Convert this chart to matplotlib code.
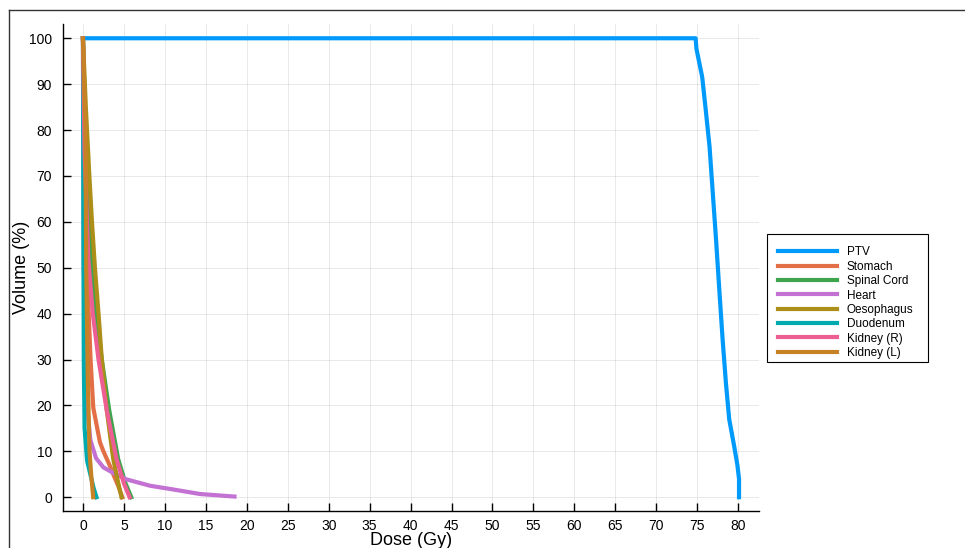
import numpy as np
import matplotlib
matplotlib.use("Agg")
import matplotlib.pyplot as plt
from matplotlib.lines import Line2D
from matplotlib.patches import Rectangle

plt.rcParams['font.family'] = ['Liberation Sans', 'DejaVu Sans']

# dose-volume histogram points (dose Gy, volume %)
ptv_dose = [0, 74.8, 74.9, 75.6, 76.0, 76.5, 76.9, 77.3, 77.7, 78.1, 78.5, 78.9, 79.5, 79.9, 80.1, 80.1]
ptv_vol = [100, 100, 97.7, 91.6, 85, 76.4, 66.2, 56, 45, 34.3, 24.9, 17, 11.2, 7, 4, 0]

stomach_dose = [0, 0.2, 0.45, 0.7, 0.93, 1.26, 2.07, 2.5, 3.3, 3.7, 4.3, 4.8]
stomach_vol = [100, 60, 52, 40, 30, 19.5, 12, 10, 6.8, 5, 2.5, 0]

cord_dose = [0, 0.3, 0.9, 1.6, 2.3, 3.2, 4.3, 5.2, 5.9]
cord_vol = [100, 80, 55, 40, 30, 19, 8.3, 3, 0]

heart_dose = [0, 0.1, 0.5, 0.9, 1.6, 2.5, 3.7, 5.3, 8.2, 11, 14.3, 18.5]
heart_vol = [100, 50, 20, 12.5, 8.5, 6.5, 5.3, 3.9, 2.5, 1.7, 0.7, 0.15]

oeso_dose = [0, 0.35, 0.78, 1.1, 1.46, 1.9, 2.3, 2.9, 3.7, 4.2, 4.7]
oeso_vol = [100, 85, 70, 60, 50, 40, 30, 19, 8.3, 4, 0]

duod_dose = [0, 0.05, 0.1, 0.2, 0.5, 0.9, 1.3, 1.65]
duod_vol = [100, 60, 30, 15, 8, 5, 2, 0]

kidr_dose = [0, 0.2, 0.65, 1.2, 1.9, 2.9, 4.1, 5.0, 5.7]
kidr_vol = [100, 75, 52, 40, 30, 19, 8.3, 3, 0]

kidl_dose = [0, 0.3, 0.4, 0.6, 0.8, 1.0, 1.25]
kidl_vol = [100, 80, 50, 25, 10, 5, 0]

labels = ["PTV", "Stomach", "Spinal Cord", "Heart", "Oesophagus", "Duodenum", "Kidney (R)", "Kidney (L)"]
doses = [ptv_dose, stomach_dose, cord_dose, heart_dose, oeso_dose, duod_dose, kidr_dose, kidl_dose]
vols = [ptv_vol, stomach_vol, cord_vol, heart_vol, oeso_vol, duod_vol, kidr_vol, kidl_vol]
colors = ["#009AFA", "#E36F47", "#3EA44E", "#C371D2", "#AC8E18", "#00AAAE", "#ED5E93", "#C68225"]

fig = plt.figure(figsize=(9.65, 5.48), dpi=100)
ax = fig.add_axes([0.0656, 0.0675, 0.7206, 0.8878])

for d, v, c, lab in zip(doses, vols, colors, labels):
    ax.plot(d, v, color=c, lw=3, label=lab, solid_joinstyle='round')

ax.set_xlim(-2.4, 82.5)
ax.set_ylim(-3, 103)
ax.set_xticks(np.arange(0, 81, 5))
ax.set_yticks(np.arange(0, 101, 10))
ax.grid(True, color='#000000', alpha=0.1, lw=0.6)
ax.set_axisbelow(True)
ax.tick_params(direction='in', length=6, width=1, labelsize=10, colors='black')
ax.tick_params(axis='y', pad=8)
ax.tick_params(axis='x', pad=6)
for s in ['top', 'right']:
    ax.spines[s].set_visible(False)
for s in ['left', 'bottom']:
    ax.spines[s].set_linewidth(1)

ax.set_xlabel("Dose (Gy)", fontsize=13, labelpad=-1)
ax.set_ylabel("Volume (%)", fontsize=13, labelpad=-1)

leg = ax.legend(loc='upper left', bbox_to_anchor=(769 / 965, 1 - 237 / 548),
                bbox_transform=fig.transFigure, fontsize=8.5, frameon=False,
                handlelength=5.0, labelspacing=0.2, borderpad=0.3,
                handletextpad=0.8)
# legend box as drawn in the reference (wider on the right)
fig.add_artist(Rectangle((767 / 965, 1 - 362 / 548), 161 / 965, 128 / 548,
                         fill=False, edgecolor='black', lw=0.8,
                         transform=fig.transFigure))

# border of the original screenshot
fig.add_artist(Line2D([9 / 965, 1], [1 - 10 / 548, 1 - 10 / 548], color='#333333', lw=1, transform=fig.transFigure))
fig.add_artist(Line2D([9 / 965, 9 / 965], [0, 1 - 10 / 548], color='#333333', lw=1, transform=fig.transFigure))

fig.savefig("out.png", dpi=100)
